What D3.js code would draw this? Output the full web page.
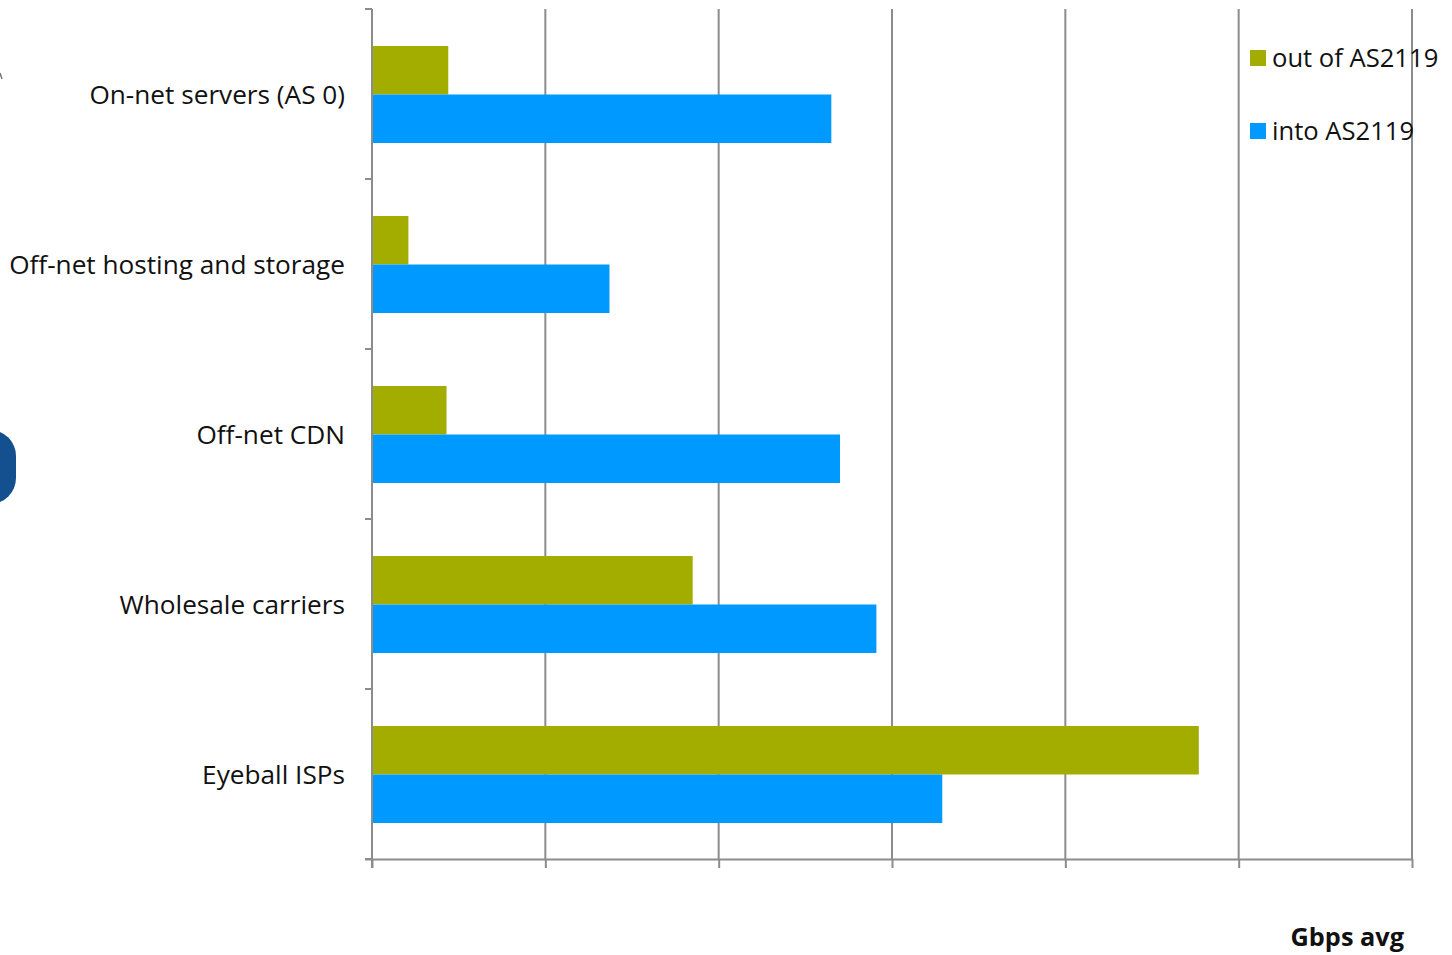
<!DOCTYPE html>
<html>
<head>
<meta charset="utf-8">
<script src="https://cdn.jsdelivr.net/npm/d3@7"></script>
<style>
  html, body { margin: 0; padding: 0; background: #ffffff; }
  svg { display: block; }
  text { font-family: "Open Sans", "DejaVu Sans", sans-serif; fill: #111; }
</style>
</head>
<body>
<svg id="chart" width="1452" height="955"></svg>
<script>
// Traffic by peer type, Gbps average
const categories = ["On-net servers (AS 0)", "Off-net hosting and storage", "Off-net CDN", "Wholesale carriers", "Eyeball ISPs"];
const seriesNames = ["out of AS2119", "into AS2119"];
const outOf = [4.4, 2.1, 4.3, 18.5, 47.7];
const into = [26.5, 13.7, 27.0, 29.1, 32.9];
const xTicks = [0, 10, 20, 30, 40, 50, 60];
const axisTitle = "Gbps avg";

const colors = ["#a3ad00", "#0099ff"];
const gridColor = "#8c8c8c";

const svg = d3.select("#chart");

const plot = { left: 372, right: 1412, top: 9, bottom: 859 };

const x = d3.scaleLinear().domain([0, 60]).range([plot.left, plot.right]);
const y = d3.scaleBand().domain(categories).range([plot.top, plot.bottom]).paddingInner(0).paddingOuter(0);
const inner = d3.scaleBand().domain(seriesNames).range([37, 134]);

// decorative slide element partly cut off at the left edge
svg.append("rect")
  .attr("x", -40).attr("y", 430).attr("width", 56).attr("height", 74)
  .attr("rx", 26).attr("fill", "#14508f");
svg.append("line")
  .attr("x1", 0).attr("x2", 2).attr("y1", 73).attr("y2", 79)
  .attr("stroke", "#777").attr("stroke-width", 1.5);

// vertical gridlines
svg.append("g").selectAll("line")
  .data(xTicks.slice(1))
  .join("line")
  .attr("x1", d => x(d)).attr("x2", d => x(d))
  .attr("y1", plot.top).attr("y2", plot.bottom)
  .attr("stroke", gridColor).attr("stroke-width", 2);

// bars
const data = categories.map((c, i) => ({ cat: c, vals: [outOf[i], into[i]] }));
const groups = svg.append("g").selectAll("g")
  .data(data)
  .join("g")
  .attr("transform", d => `translate(0,${y(d.cat)})`);

groups.selectAll("rect")
  .data(d => d.vals.map((v, j) => ({ name: seriesNames[j], v, j })))
  .join("rect")
  .attr("x", x(0))
  .attr("y", d => inner(d.name))
  .attr("width", d => x(d.v) - x(0))
  .attr("height", inner.bandwidth())
  .attr("fill", d => colors[d.j]);

// x axis (no tick labels)
const xAxis = svg.append("g")
  .attr("transform", `translate(0,${plot.bottom})`)
  .call(d3.axisBottom(x).tickValues(xTicks).tickSize(9).tickSizeOuter(0).tickFormat(""));
xAxis.select(".domain").attr("stroke", gridColor).attr("stroke-width", 2)
  .attr("d", `M${plot.left - 7},0.5H${plot.right}`);
xAxis.selectAll(".tick line").attr("stroke", gridColor).attr("stroke-width", 2);

// y axis with category labels
const boundaries = categories.map(c => y(c)).concat([plot.bottom]);
svg.append("line")
  .attr("x1", plot.left).attr("x2", plot.left)
  .attr("y1", plot.top).attr("y2", plot.bottom + 9)
  .attr("stroke", gridColor).attr("stroke-width", 2);
svg.append("g").selectAll("line")
  .data(boundaries)
  .join("line")
  .attr("x1", plot.left - 7).attr("x2", plot.left)
  .attr("y1", d => d).attr("y2", d => d)
  .attr("stroke", gridColor).attr("stroke-width", 2);

svg.append("g").selectAll("text")
  .data(categories)
  .join("text")
  .attr("x", 345)
  .attr("y", d => y(d) + 86)
  .attr("dy", "0.35em")
  .attr("text-anchor", "end")
  .attr("font-size", 26.2)
  .text(d => d);

// legend
const legend = svg.append("g").selectAll("g")
  .data(seriesNames)
  .join("g")
  .attr("transform", (d, i) => `translate(1250,${58 + i * 73})`);
legend.append("rect")
  .attr("x", 0).attr("y", -8).attr("width", 16).attr("height", 16)
  .attr("fill", (d, i) => colors[i]);
legend.append("text")
  .attr("x", 22).attr("y", 0).attr("dy", "0.35em")
  .attr("font-size", 25.6)
  .text(d => d);

// axis title
svg.append("text")
  .attr("x", 1404).attr("y", 937).attr("dy", "0.35em")
  .attr("text-anchor", "end")
  .attr("font-size", 25.3).attr("font-weight", "bold")
  .text(axisTitle);
</script>
</body>
</html>
